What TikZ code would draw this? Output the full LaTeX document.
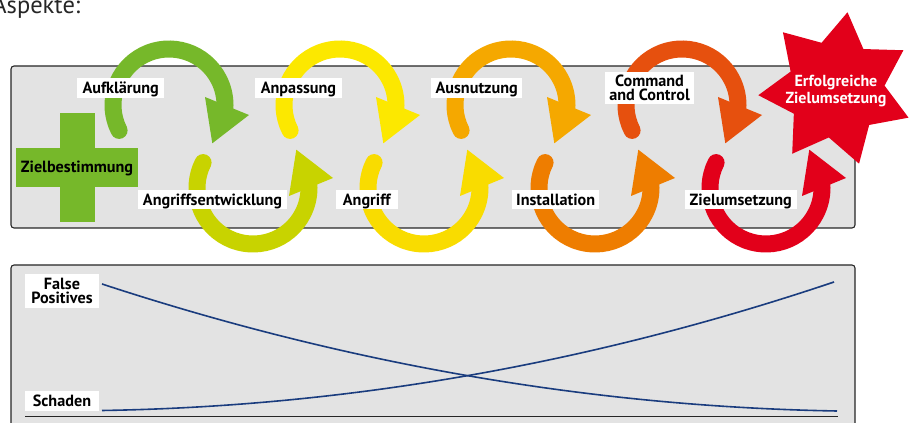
\documentclass[tikz,border=0pt]{standalone}
\usepackage{fontspec}
\setmainfont{PT Sans}
\definecolor{panelgray}{HTML}{E3E3E3}
\definecolor{cgreen}{HTML}{76B82A}
\definecolor{clime}{HTML}{C8D300}
\definecolor{cyellowA}{HTML}{FCE800}
\definecolor{cyellowB}{HTML}{F9DC00}
\definecolor{corangeA}{HTML}{F5A800}
\definecolor{corangeB}{HTML}{EE7D00}
\definecolor{credA}{HTML}{E6500E}
\definecolor{credB}{HTML}{E2001A}
\definecolor{curveblue}{HTML}{1A3C7E}
\newcommand\tagfont{\bfseries\fontsize{16.2}{14.5}\selectfont}
% one looping arrow: centre, colour, 1 = over the top, -1 = under the bottom
\newcommand\loopshape[3]{%
  \begin{scope}[shift={#1}, yscale=#3]
    \fill[#2] (36,8) -- (80,-10) -- (43.3,-38.3) -- cycle;
    \draw[#2, line width=17pt, line cap=round]
      (207:56) arc[start angle=207, end angle=-4, radius=56];
  \end{scope}}
\begin{document}
\begin{tikzpicture}[x=1pt, y=1pt,
  panel/.style={fill=panelgray, draw=black!85, line width=1.1pt, rounded corners=3pt},
  tag/.style={fill=white, font=\tagfont, text=black, inner sep=0pt,
    minimum height=19.4pt, text height=11.3pt, text depth=0pt},
  tagtwo/.style={fill=white, font=\tagfont, text=black, inner sep=0pt, align=center},
  curve/.style={draw=curveblue, line width=1.6pt}]
\useasboundingbox (0,0) rectangle (914,423);
\clip (0,0) rectangle (914,423);

% heading
\node[anchor=base east, inner sep=0pt, text=black!85,
  font=\fontsize{24.5}{24.5}\selectfont] (title) at (80.5,409) {Aspekte:};

% panels
\draw[panel] (11,195) rectangle (855,357);
\draw[panel] (11,-10) rectangle (855,158);

% start: green cross
\fill[cgreen] (60,201.3) rectangle (95,309.7);
\fill[cgreen] (16,235.7) rectangle (138.3,274.7);
\node[font=\tagfont, text=black] (goal) at (77,255) {Zielbestimmung};

% loops over the top
\loopshape{(169,318)}{cgreen}{1}
\loopshape{(340,318)}{cyellowA}{1}
\loopshape{(511,318)}{corangeA}{1}
\loopshape{(682,318)}{credA}{1}
% loops under the bottom
\loopshape{(253,235)}{clime}{-1}
\loopshape{(424,235)}{cyellowB}{-1}
\loopshape{(595,235)}{corangeB}{-1}
\loopshape{(766,235)}{credB}{-1}

% final star
\begin{scope}[shift={(836,333.7)}]
  \fill[credB] (81.5:77.9)
    \foreach \k in {0,...,6} {
      -- ({81.5-25.714-51.428*\k}:48.7) -- ({81.5-51.428*(\k+1)}:77.9) } -- cycle;
\end{scope}
\node[align=center, text=white, font=\bfseries\fontsize{16}{16.7}\selectfont]
  (win) at (836,332) {Erfolgreiche\\Zielumsetzung};

% phase labels
\node[tag, minimum width=86.7pt] (aufkl) at (120.7,335) {Aufklärung};
\node[tag, minimum width=86.7pt] (anpas) at (298.5,335) {Anpassung};
\node[tag, minimum width=91.3pt] (ausnu) at (476.7,335) {Ausnutzung};
\node[tagtwo, minimum width=89pt, minimum height=32.6pt] (cnc) at (649.5,335)
  {Command\\and Control};
\node[tag, minimum width=148.4pt] (entw) at (212.5,223.3) {Angriffsentwicklung};
\node[tag, minimum width=61.7pt] (angr) at (366.8,223.3) {Angriff};
\node[tag, minimum width=86.7pt] (inst) at (555.7,223.3) {Installation};
\node[tag, minimum width=111.7pt] (ziel) at (740.8,223.3) {Zielumsetzung};

% lower chart
\coordinate (axisL) at (25,7);
\coordinate (axisR) at (838,7);
\draw[black!85, line width=0.9pt] (axisL) -- (axisR);
\coordinate (fpA) at (102,139);
\coordinate (fpB) at (837,12);
\coordinate (scA) at (102,12.5);
\coordinate (scB) at (834,141);
\draw[curve] (fpA) .. controls (347,58.7) and (592,16.3) .. (fpB);
\draw[curve] (scA) .. controls (347,16.5) and (590,59) .. (scB);
\node[tagtwo, minimum width=74pt, minimum height=34pt] (fp) at (62,132) {False\\Positives};
\node[tag, minimum width=74pt, minimum height=20pt] (sc) at (62,22) {Schaden};
\end{tikzpicture}
\end{document}
